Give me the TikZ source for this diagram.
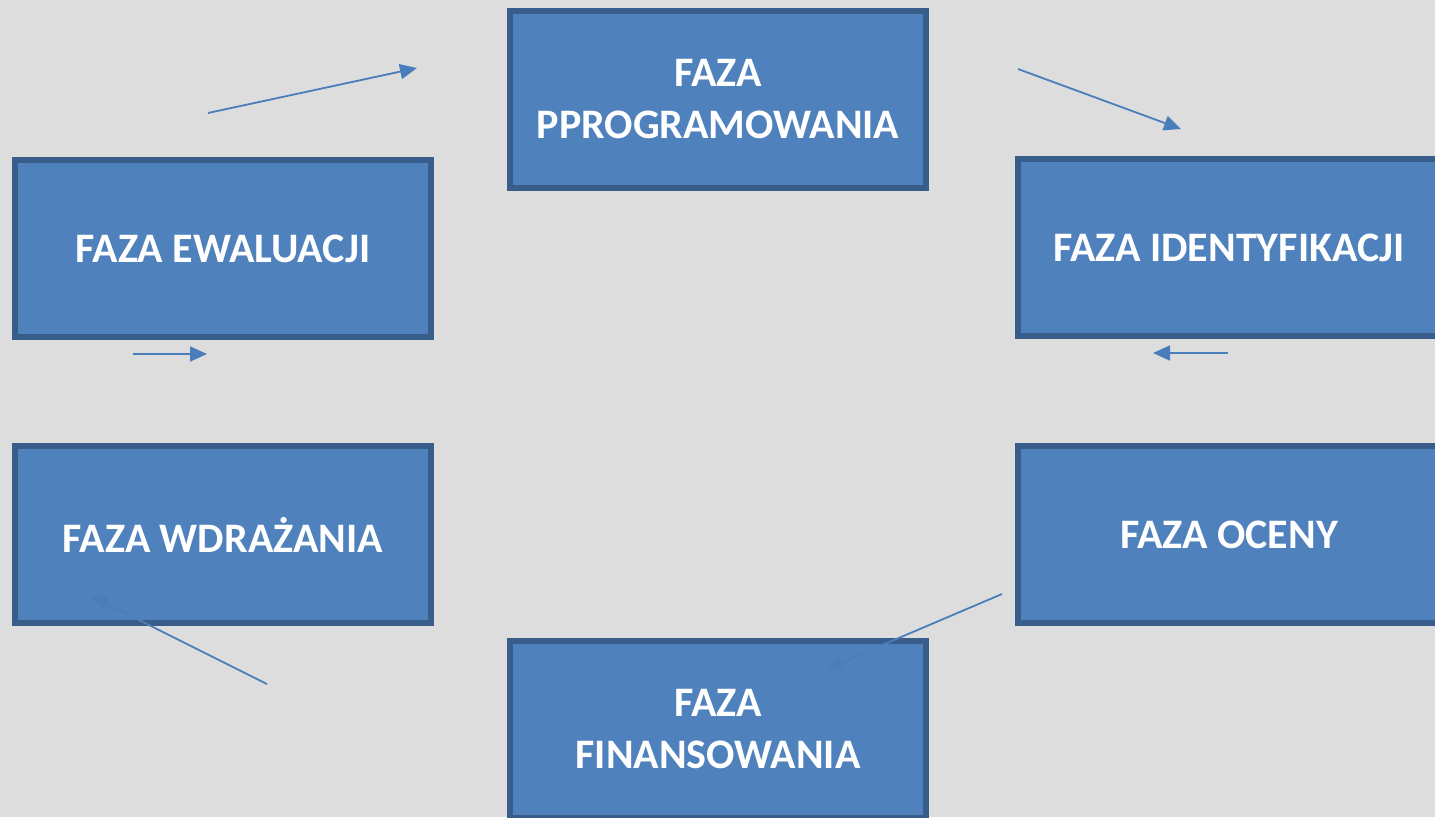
\documentclass[tikz,border=0pt]{standalone}
\usepackage{fontspec}
\setmainfont{Carlito}
\usetikzlibrary{arrows.meta}
\definecolor{bgc}{HTML}{DDDDDD}
\definecolor{boxfill}{HTML}{4F81BD}
\definecolor{boxline}{HTML}{385D8A}
\definecolor{arrc}{HTML}{4A7EBB}
\begin{document}
\begin{tikzpicture}[x=1pt,y=-1pt,
  phase/.style={draw=boxline, line width=6pt, fill=boxfill, text=white,
    font=\fontsize{42}{52}\selectfont\bfseries, align=center,
    minimum width=416pt, minimum height=177pt, inner sep=0pt, anchor=north west},
  wide/.style={minimum width=440pt},
  flow/.style={draw=arrc, line width=1.8pt, -{Triangle[length=17pt,width=15pt]}}]
\useasboundingbox[fill=bgc] (0,0) rectangle (1435,817);
\node[phase] (prog) at (507,8) {FAZA\\PPROGRAMOWANIA};
\node[phase] (ewal) at (12,157) {FAZA EWALUACJI};
\node[phase,wide] (iden) at (1015,156) {\hspace*{-18pt}FAZA IDENTYFIKACJI};
\node[phase] (wdr) at (12,443) {FAZA WDRAŻANIA};
\node[phase,wide] (ocen) at (1015,443) {\hspace*{-18pt}FAZA OCENY};
\node[phase] (fin) at (507,638) {FAZA\\FINANSOWANIA};
\coordinate (a1s) at (208,113); \coordinate (a1e) at (417,68);
\coordinate (a2s) at (1018,69); \coordinate (a2e) at (1181,129);
\coordinate (a3s) at (1228,353); \coordinate (a3e) at (1153,353);
\coordinate (a4s) at (1002,594); \coordinate (a4e) at (826,669);
\coordinate (a5s) at (267,684); \coordinate (a5e) at (91,596);
\coordinate (a6s) at (133,354); \coordinate (a6e) at (207,354);
\draw[flow] (a1s) -- (a1e);
\draw[flow] (a2s) -- (a2e);
\draw[flow] (a3s) -- (a3e);
\draw[flow] (a4s) -- (a4e);
\draw[flow] (a5s) -- (a5e);
\draw[flow] (a6s) -- (a6e);
\end{tikzpicture}
\end{document}
